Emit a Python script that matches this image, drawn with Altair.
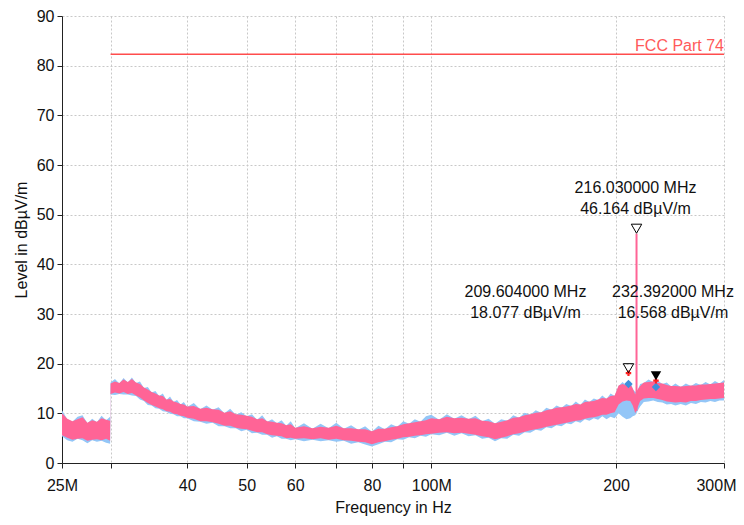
import altair as alt
import pandas as pd

# ---------------- data ----------------
freq_mhz = [
    25.0, 25.5, 26.0, 26.5, 27.0, 27.5, 28.0, 28.5, 29.0, 29.5, 29.95,
    30.0, 30.5, 31.0, 31.5, 32.0, 32.5, 33.0, 33.5, 34.0, 34.5, 35.0, 35.5, 36.0, 36.5, 37.0, 37.5, 38.0, 38.5, 39.0, 39.5,
    40, 41, 42, 43, 44, 45, 46, 47, 48, 49, 50, 51, 52, 53, 54, 55, 56, 57, 58, 59,
    60, 62, 64, 66, 68, 70, 72, 74, 76, 78, 80, 82, 84, 86, 88, 90, 92, 94, 96, 98,
    100, 103, 106, 109, 112, 115, 118, 121, 124, 127, 130, 133, 136, 139, 142, 145, 148, 151, 154, 157,
    160, 163, 166, 169, 172, 175, 178, 181, 184, 187, 190, 193, 196, 199,
    202, 205, 208, 211, 213, 215, 217, 219, 222, 226, 230, 234, 238, 242, 246, 250, 255, 260, 265, 270,
    275, 280, 285, 290, 295, 300,
]

pink_hi = [
    10.0, 8.9, 8.4, 8.8, 9.2, 8.1, 8.6, 8.3, 9.0, 8.7, 8.5,
    16.0, 16.4, 16.1, 16.8, 16.3, 16.9, 16.2, 15.9, 15.2, 14.8, 14.3, 14.0, 13.6, 13.5, 12.8, 12.9, 12.4, 12.2, 11.9, 11.8,
    11.4, 11.5, 10.9, 11.1, 10.8, 10.7, 10.1, 10.4, 9.8, 9.7, 9.5, 9.3, 8.8, 9.0, 8.4, 8.3, 8.1, 8.0, 7.6, 7.8,
    7.1, 7.4, 7.0, 7.3, 7.1, 7.5, 7.0, 7.0, 6.8, 6.8, 6.4, 6.9, 6.9, 7.2, 7.4, 7.8, 8.0, 8.2, 8.4, 8.6,
    9.0, 8.8, 9.3, 9.0, 9.1, 8.9, 9.0, 8.5, 8.4, 8.0, 8.3, 8.6, 9.1, 9.2, 9.6, 9.8, 10.1, 10.2, 10.6, 10.8,
    11.1, 11.2, 11.4, 11.6, 11.9, 11.8, 12.3, 12.4, 12.5, 12.8, 13.1, 13.0, 13.5, 13.6,
    15.6, 15.9, 15.6, 15.9, 15.0, 13.8, 14.8, 15.5, 16.2, 16.3, 16.4, 16.1, 16.0, 15.7, 15.5, 15.5, 15.4, 15.5, 15.6, 15.6,
    15.8, 15.8, 15.9, 16.0, 16.1, 16.2,
]
pink_lo = [
    5.6, 5.1, 4.7, 4.9, 5.0, 4.5, 4.7, 4.8, 4.6, 4.9, 4.5,
    13.9, 14.2, 14.0, 14.3, 13.9, 14.1, 13.6, 13.2, 12.6, 12.1, 11.7, 11.4, 11.0, 10.8, 10.4, 10.3, 9.9, 9.8, 9.5, 9.4,
    9.1, 8.9, 8.4, 8.4, 8.2, 7.9, 7.5, 7.5, 7.1, 6.9, 6.8, 6.5, 6.2, 6.2, 5.8, 5.6, 5.5, 5.4, 5.0, 5.1,
    4.9, 5.0, 4.8, 5.0, 4.7, 4.9, 4.6, 4.5, 4.3, 4.2, 3.8, 4.2, 4.4, 4.7, 4.9, 5.2, 5.3, 5.5, 5.6, 5.8,
    5.9, 6.1, 6.2, 6.0, 6.1, 5.9, 5.7, 5.4, 5.2, 4.8, 5.1, 5.4, 5.8, 6.0, 6.3, 6.6, 6.8, 7.0, 7.3, 7.5,
    7.7, 7.9, 8.1, 8.3, 8.5, 8.6, 8.9, 9.1, 9.2, 9.4, 9.7, 9.7, 10.0, 10.2,
    11.8, 12.4, 12.6, 12.5, 11.6, 10.0, 11.2, 12.5, 13.0, 13.1, 13.1, 12.9, 12.7, 12.4, 12.3, 12.2, 12.3, 12.2, 12.5, 12.5,
    12.7, 12.8, 12.9, 12.9, 13.0, 13.1,
]
blue_hi = [
    10.6, 8.8, 8.3, 9.3, 9.6, 8.0, 8.9, 8.2, 9.5, 8.6, 9.3,
    16.2, 16.9, 16.0, 17.1, 16.2, 17.2, 16.1, 16.4, 15.1, 15.3, 14.2, 14.5, 13.5, 14.0, 12.7, 13.4, 12.3, 12.7, 11.8, 12.3,
    11.3, 12.1, 10.8, 11.6, 10.7, 11.2, 10.0, 10.9, 9.7, 10.2, 9.4, 9.8, 8.7, 9.6, 8.3, 8.8, 8.0, 8.6, 7.5, 8.4,
    7.0, 8.0, 6.9, 7.9, 7.0, 8.1, 6.9, 7.6, 6.7, 7.4, 6.3, 7.5, 6.8, 7.8, 7.3, 8.4, 7.9, 8.8, 8.3, 9.4,
    9.7, 8.7, 9.8, 8.9, 9.6, 8.8, 9.5, 8.4, 8.9, 7.9, 8.8, 8.5, 9.6, 9.1, 10.1, 9.7, 10.6, 10.1, 11.1, 10.7,
    11.6, 11.1, 11.9, 11.5, 12.4, 11.7, 12.8, 12.3, 13.0, 12.7, 13.6, 12.9, 14.0, 13.5,
    15.5, 16.3, 15.5, 16.4, 14.9, 14.3, 14.7, 15.9, 16.1, 16.8, 16.3, 16.6, 15.9, 16.2, 15.4, 16.0, 15.3, 16.0, 15.5, 16.1,
    15.7, 16.3, 15.8, 16.5, 16.0, 16.7,
]
blue_lo = [
    5.4, 4.6, 4.3, 4.9, 4.6, 4.0, 4.6, 4.3, 4.5, 4.1, 3.9,
    13.8, 13.7, 13.9, 13.8, 13.8, 13.6, 13.5, 12.8, 12.5, 11.7, 11.6, 11.0, 10.9, 10.4, 10.3, 9.9, 9.8, 9.4, 9.4, 9.0,
    9.0, 8.4, 8.3, 7.9, 8.1, 7.4, 7.4, 7.0, 7.0, 6.4, 6.7, 6.0, 6.1, 5.7, 5.7, 5.1, 5.4, 4.9, 4.9, 4.6,
    4.8, 4.4, 4.7, 4.4, 4.6, 4.3, 4.5, 3.9, 4.2, 3.7, 3.3, 3.8, 4.3, 4.2, 4.8, 4.7, 5.2, 5.0, 5.5, 5.3,
    5.8, 5.6, 6.1, 5.5, 6.0, 5.4, 5.6, 4.9, 5.1, 4.4, 5.0, 4.9, 5.7, 5.5, 6.2, 6.1, 6.7, 6.5, 7.2, 7.0,
    7.6, 7.4, 8.0, 7.8, 8.4, 8.1, 8.8, 8.5, 9.0, 8.7, 9.4, 8.8, 9.3, 9.0,
    10.0, 9.3, 8.8, 9.0, 9.4, 9.6, 10.5, 11.4, 12.3, 12.4, 12.6, 12.3, 12.2, 11.8, 11.9, 11.6, 11.9, 11.6, 12.1, 11.9,
    12.3, 12.2, 12.5, 12.3, 12.6, 12.6,
]

limit_f = [30, 300]
limit_level = 82.3
limit_name = "FCC Part 74"

peak_f = [209.604, 216.03, 232.392]
peak_level = [18.077, 46.164, 16.568]
peak_line1 = ["209.604000 MHz", "216.030000 MHz", "232.392000 MHz"]
peak_line2 = ["18.077 dBµV/m", "46.164 dBµV/m", "16.568 dBµV/m"]
peak_filled = [False, False, True]
avg_f = [209.604, 232.392]
avg_level = [15.9, 15.3]
spike_base = 10.5  # trace level under the 216.03 MHz spike

x_ticks = [25, 30, 40, 50, 60, 70, 80, 90, 100, 200, 300]
y_ticks = list(range(0, 95, 5))

assert len(freq_mhz) == len(pink_hi) == len(pink_lo) == len(blue_hi) == len(blue_lo)

# ---------------- tables ----------------
trace = pd.DataFrame({"f": freq_mhz, "plo": pink_lo, "phi": pink_hi, "blo": blue_lo, "bhi": blue_hi})
peaks = pd.DataFrame({"f": peak_f, "lvl": peak_level, "l1": peak_line1, "l2": peak_line2,
                      "filled": peak_filled, "base": [spike_base] * 3})
avgs = pd.DataFrame({"f": avg_f, "lvl": avg_level})
limit = pd.DataFrame({"f": [limit_f[0]], "f2": [limit_f[1]], "lvl": [limit_level], "name": [limit_name]})

FONT = "Liberation Sans"
PINK = "#ff6496"
BLUE = "#93c6f7"

xscale = alt.Scale(type="log", domain=[25, 300], nice=False)
yscale = alt.Scale(domain=[0, 90], nice=False)

label_expr = ("datum.value == 25 ? '25M' : datum.value == 100 ? '100M' : datum.value == 300 ? '300M' : "
              "(datum.value == 30 || datum.value == 70 || datum.value == 90) ? '' : datum.value")

x_axis = alt.Axis(
    values=x_ticks, labelExpr=label_expr, title="Frequency in Hz",
    titleY=49, titleBaseline="alphabetic", labelPadding=9, labelFlush=False,
    labelAlign={"condition": {"test": "datum.value == 300", "value": "right"}, "value": "center"},
    labelOffset={"condition": {"test": "datum.value == 300", "value": 12}, "value": 0},
)
y_axis = alt.Axis(values=y_ticks, labelExpr="datum.value % 10 == 0 ? datum.value : ''",
                  title="Level in dBµV/m", titleX=-41, titleY=223.5, titleAngle=270,
                  titleBaseline="middle", titleAlign="center", labelPadding=3)

base = alt.Chart(trace)

blue_band = base.mark_area(color=BLUE, opacity=1, interpolate="linear").encode(
    x=alt.X("f:Q", scale=xscale, axis=x_axis),
    y=alt.Y("blo:Q", scale=yscale, axis=y_axis),
    y2="bhi:Q",
)
pink_band = base.mark_area(color=PINK, opacity=1, interpolate="linear").encode(
    x=alt.X("f:Q", scale=xscale), y=alt.Y("plo:Q", scale=yscale), y2="phi:Q",
)

spike = alt.Chart(peaks).transform_filter("datum.lvl > 40").mark_rule(color=PINK, strokeWidth=2).encode(
    x=alt.X("f:Q", scale=xscale), y=alt.Y("lvl:Q", scale=yscale), y2="base:Q",
)

limit_line = alt.Chart(limit).mark_rule(color="#ff4d4d", strokeWidth=1.5).encode(
    x=alt.X("f:Q", scale=xscale), x2="f2:Q", y=alt.Y("lvl:Q", scale=yscale),
)
limit_text = alt.Chart(limit).mark_text(color="#ff5a5a", font=FONT, fontSize=16, align="right",
                                        baseline="alphabetic", dy=-3).encode(
    x=alt.X("f2:Q", scale=xscale), y=alt.Y("lvl:Q", scale=yscale), text="name:N",
)

tri_open = alt.Chart(peaks).transform_filter("!datum.filled").mark_point(
    shape="triangle-down", size=110, filled=False, color="black", strokeWidth=1, yOffset=-5, opacity=1
).encode(x=alt.X("f:Q", scale=xscale), y=alt.Y("lvl:Q", scale=yscale))
tri_fill = alt.Chart(peaks).transform_filter("datum.filled").mark_point(
    shape="triangle-down", size=110, filled=True, color="black", yOffset=-5, opacity=1
).encode(x=alt.X("f:Q", scale=xscale), y=alt.Y("lvl:Q", scale=yscale))
red_cross = alt.Chart(peaks).transform_filter("datum.lvl < 40").mark_point(
    shape="cross", size=30, filled=True, color="#ff2020", opacity=1
).encode(x=alt.X("f:Q", scale=xscale), y=alt.Y("lvl:Q", scale=yscale))
diamonds = alt.Chart(avgs).mark_point(shape="diamond", size=70, filled=True, color="#3d8fdc", opacity=1).encode(
    x=alt.X("f:Q", scale=xscale), y=alt.Y("lvl:Q", scale=yscale))


def label(idx, dx, dy1, dy2):
    src = alt.Chart(peaks).transform_filter(f"datum.f == {peak_f[idx]}")
    enc = dict(x=alt.X("f:Q", scale=xscale), y=alt.Y("lvl:Q", scale=yscale))
    t1 = src.mark_text(font=FONT, fontSize=16, color="#111", dx=dx, dy=dy1, baseline="middle").encode(text="l1:N", **enc)
    t2 = src.mark_text(font=FONT, fontSize=16, color="#111", dx=dx, dy=dy2, baseline="middle").encode(text="l2:N", **enc)
    return t1 + t2


labels = label(0, -103, -81, -60) + label(1, -1, -46, -25) + label(2, 17, -89, -68)

chart = alt.layer(
    blue_band, pink_band, spike, limit_line, limit_text, diamonds, red_cross, tri_open, tri_fill, labels
).properties(
    width=662, height=447, autosize=alt.AutoSizeParams(type="none"),
    padding={"left": 54, "top": 8, "right": 12, "bottom": 53}, background="white",
).configure_view(stroke=None).configure_axis(
    labelFont=FONT, titleFont=FONT, labelFontSize=16, titleFontSize=16, titleFontWeight="normal",
    labelColor="#111", titleColor="#111", domainColor="#222", tickColor="#222", tickSize=5,
    gridColor="#c8c8c8", gridDash=[2, 2], gridWidth=1,
)

chart.save("out.html", embed_options={"renderer": "svg", "actions": False})
